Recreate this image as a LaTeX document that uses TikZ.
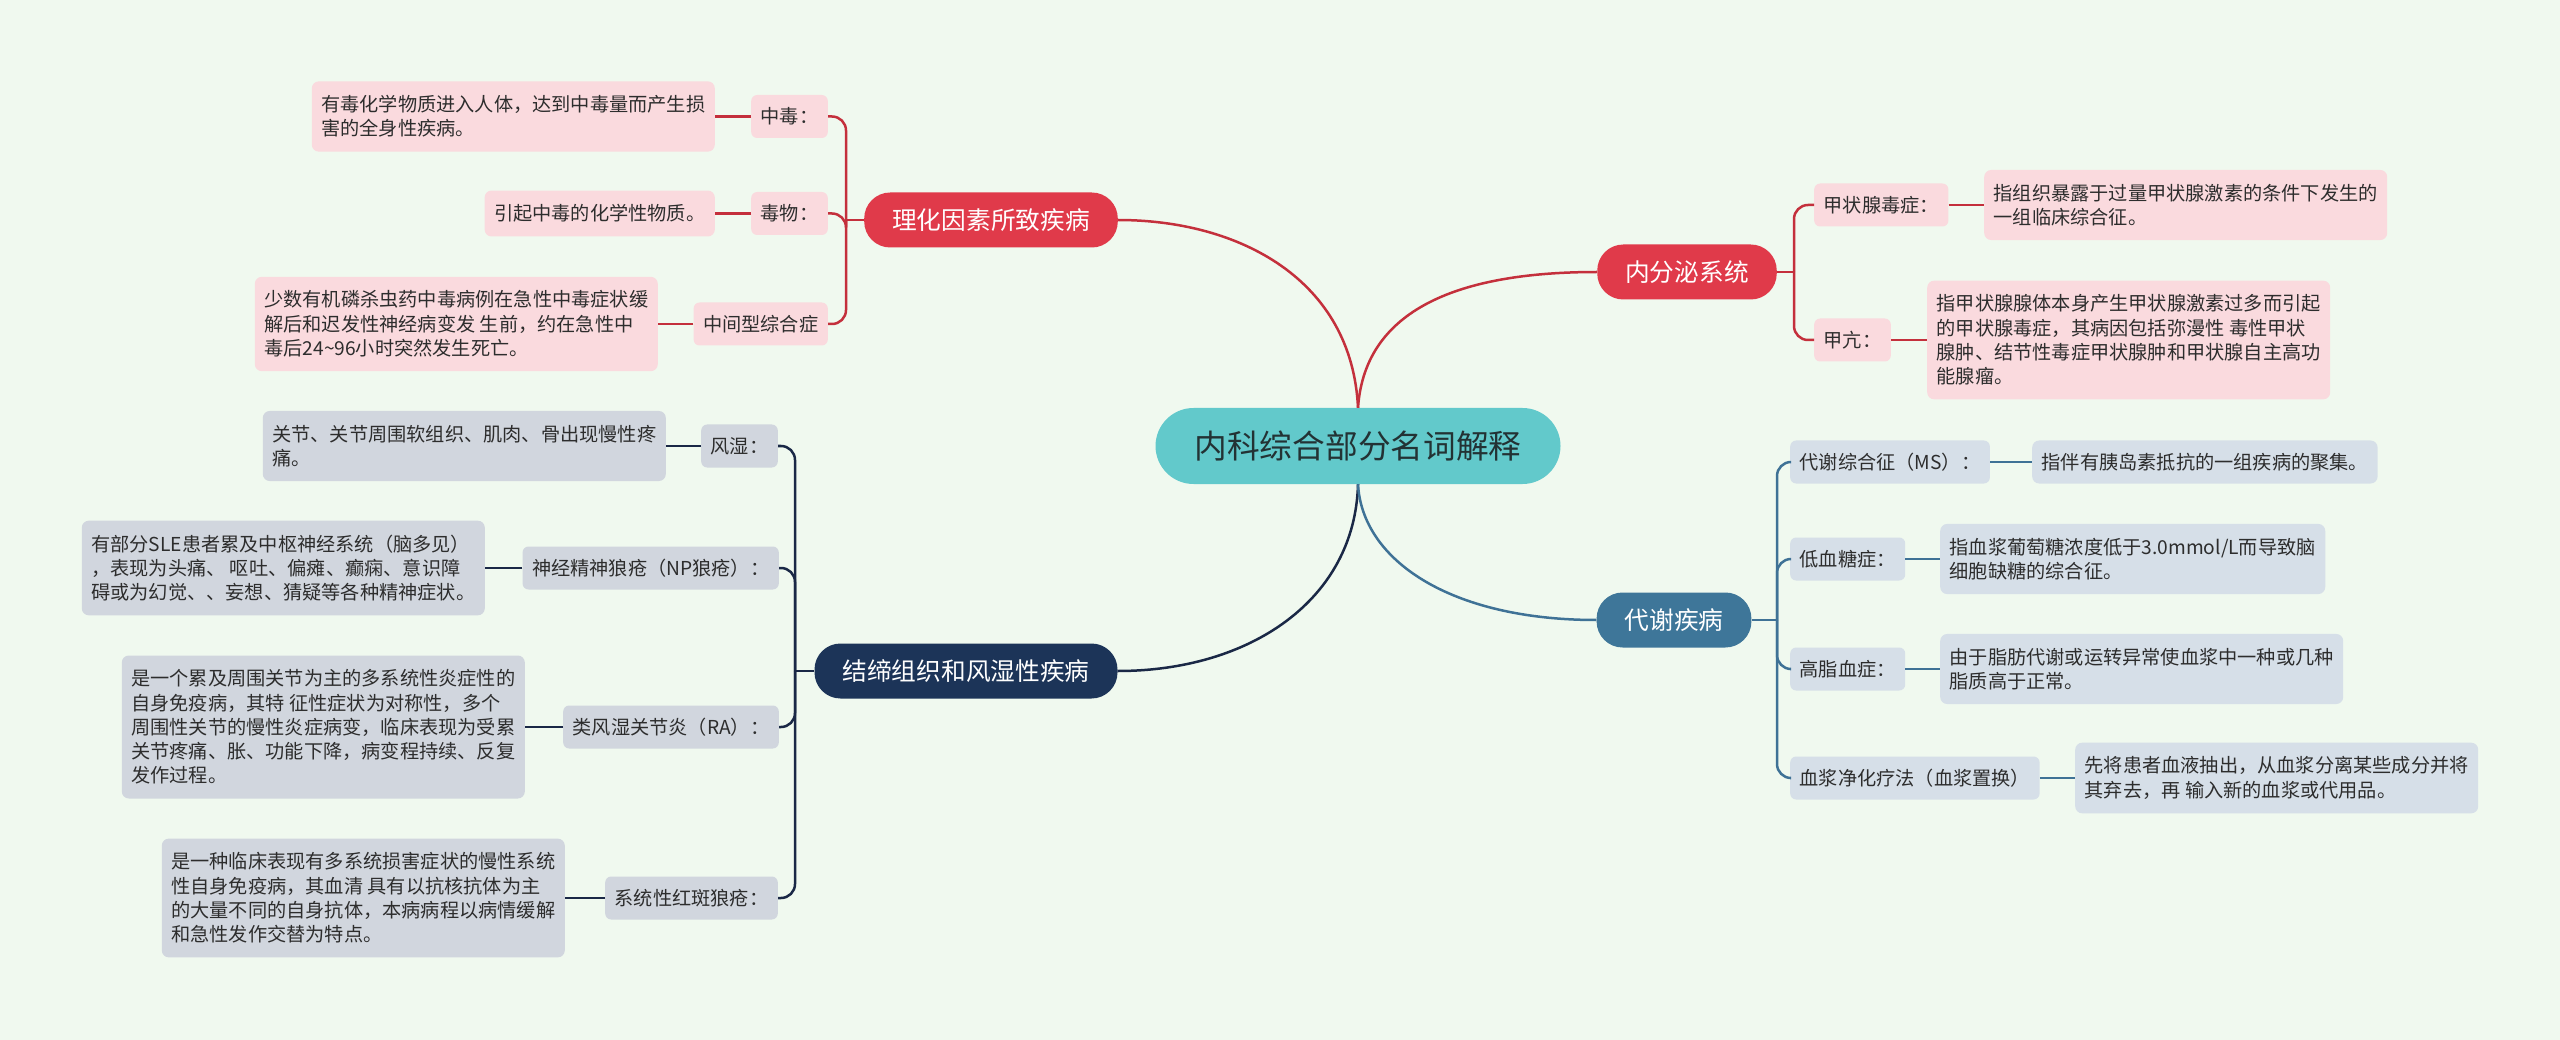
\documentclass[tikz,border=0pt]{standalone}
\usepackage{fontspec}
\setmainfont{Noto Sans CJK SC}
\definecolor{bgc}{RGB}{240,249,239}
\definecolor{rootc}{RGB}{98,201,203}
\definecolor{roottxt}{RGB}{35,50,52}
\definecolor{redm}{RGB}{224,58,74}
\definecolor{redl}{RGB}{196,48,60}
\definecolor{pinkc}{RGB}{250,218,222}
\definecolor{navym}{RGB}{28,52,88}
\definecolor{navyl}{RGB}{26,40,70}
\definecolor{grayc}{RGB}{209,214,222}
\definecolor{steelm}{RGB}{62,118,153}
\definecolor{steell}{RGB}{63,114,150}
\definecolor{bluec}{RGB}{214,223,232}
\definecolor{txt}{RGB}{45,45,45}
\tikzset{
  base/.style={inner xsep=9.5pt, inner ysep=0pt, text=txt, font=\fontsize{19.2}{24.3}\selectfont},
  lab/.style={base, rounded corners=6pt, minimum height=43pt},
  desc/.style={base, rounded corners=7pt, align=left, inner ysep=14pt},
  mainnode/.style={text=white, rounded corners=26pt, minimum height=55pt, inner xsep=28pt, inner ysep=0pt, font=\fontsize{24.7}{28}\selectfont},
  rootnode/.style={fill=rootc, text=roottxt, rounded corners=38pt, minimum height=76pt, inner xsep=39pt, inner ysep=0pt, font=\fontsize{32.7}{36}\selectfont},
  conn/.style={line width=2.5pt},
  br/.style={conn, rounded corners=14pt}
}
\begin{document}
\begin{tikzpicture}[x=1pt,y=-1pt]
\fill[bgc] (0,0) rectangle (2560,1040);
\useasboundingbox (0,0) rectangle (2560,1040);

% root and main branches
\node[rootnode] (r) at (1358,446) {内科综合部分名词解释};
\node[mainnode, fill=redm] (m1) at (991,220) {理化因素所致疾病};
\node[mainnode, fill=redm] (m2) at (1687,272) {内分泌系统};
\node[mainnode, fill=navym] (m3) at (966,671) {结缔组织和风湿性疾病};
\node[mainnode, fill=steelm] (m4) at (1674,620) {代谢疾病};

% red branch left
\node[lab, fill=pinkc, anchor=east] (a1) at (828,116.5) {中毒：};
\node[desc, fill=pinkc, anchor=east] (da1) at (715,116.5) {有毒化学物质进入人体，达到中毒量而产生损\\害的全身性疾病。};
\node[lab, fill=pinkc, anchor=east] (a2) at (828,213.5) {毒物：};
\node[desc, fill=pinkc, anchor=east] (da2) at (715,213.5) {引起中毒的化学性物质。};
\node[lab, fill=pinkc, anchor=east] (a3) at (828,324) {中间型综合症};
\node[desc, fill=pinkc, anchor=east] (da3) at (658,324) {少数有机磷杀虫药中毒病例在急性中毒症状缓\\解后和迟发性神经病变发 生前，约在急性中\\毒后24\textasciitilde96小时突然发生死亡。};

% navy branch left
\node[lab, fill=grayc, anchor=east] (b1) at (778,446) {风湿：};
\node[desc, fill=grayc, anchor=east] (db1) at (666,446) {关节、关节周围软组织、肌肉、骨出现慢性疼\\痛。};
\node[lab, fill=grayc, anchor=east] (b2) at (779,568) {神经精神狼疮（NP狼疮）：};
\node[desc, fill=grayc, anchor=east] (db2) at (485,568) {有部分SLE患者累及中枢神经系统（脑多见）\\，表现为头痛、 呕吐、偏瘫、癫痫、意识障\\碍或为幻觉、、妄想、猜疑等各种精神症状。};
\node[lab, fill=grayc, anchor=east] (b3) at (779,727) {类风湿关节炎（RA）：};
\node[desc, fill=grayc, anchor=east] (db3) at (525,727) {是一个累及周围关节为主的多系统性炎症性的\\自身免疫病，其特 征性症状为对称性，多个\\周围性关节的慢性炎症病变，临床表现为受累\\关节疼痛、胀、功能下降，病变程持续、反复\\发作过程。};
\node[lab, fill=grayc, anchor=east] (b4) at (778,898) {系统性红斑狼疮：};
\node[desc, fill=grayc, anchor=east] (db4) at (565,898) {是一种临床表现有多系统损害症状的慢性系统\\性自身免疫病，其血清 具有以抗核抗体为主\\的大量不同的自身抗体，本病病程以病情缓解\\和急性发作交替为特点。};

% red branch right
\node[lab, fill=pinkc, anchor=west] (c1) at (1814,205) {甲状腺毒症：};
\node[desc, fill=pinkc, anchor=west] (dc1) at (1984,205) {指组织暴露于过量甲状腺激素的条件下发生的\\一组临床综合征。};
\node[lab, fill=pinkc, anchor=west] (c2) at (1814,340) {甲亢：};
\node[desc, fill=pinkc, anchor=west] (dc2) at (1927,340) {指甲状腺腺体本身产生甲状腺激素过多而引起\\的甲状腺毒症，其病因包括弥漫性 毒性甲状\\腺肿、结节性毒症甲状腺肿和甲状腺自主高功\\能腺瘤。};

% steel branch right
\node[lab, fill=bluec, anchor=west] (e1) at (1790,462) {代谢综合征（MS）：};
\node[desc, fill=bluec, anchor=west, inner ysep=0pt, minimum height=43pt] (de1) at (2032,462) {指伴有胰岛素抵抗的一组疾病的聚集。};
\node[lab, fill=bluec, anchor=west] (e2) at (1790,559) {低血糖症：};
\node[desc, fill=bluec, anchor=west] (de2) at (1940,559) {指血浆葡萄糖浓度低于3.0mmol/L而导致脑\\细胞缺糖的综合征。};
\node[lab, fill=bluec, anchor=west] (e3) at (1790,669) {高脂血症：};
\node[desc, fill=bluec, anchor=west] (de3) at (1940,669) {由于脂肪代谢或运转异常使血浆中一种或几种\\脂质高于正常。};
\node[lab, fill=bluec, anchor=west] (e4) at (1790,778) {血浆净化疗法（血浆置换）};
\node[desc, fill=bluec, anchor=west] (de4) at (2075,778) {先将患者血液抽出，从血浆分离某些成分并将\\其弃去，再 输入新的血浆或代用品。};

% root to main
\draw[conn, redl] (r.north) .. controls (1352,280) and (1240,220) .. (m1.east);
\draw[conn, redl] (r.north) .. controls (1364,320) and (1440,272) .. (m2.west);
\draw[conn, navyl] (r.south) .. controls (1355,600) and (1250,671) .. (m3.east);
\draw[conn, steell] (r.south) .. controls (1362,560) and (1450,620) .. (m4.west);

% junctions
\coordinate (j1) at (846,220);
\coordinate (j2) at (1794,272);
\coordinate (j3) at (795,671);
\coordinate (j4) at (1777,620);

\draw[conn, redl] (m1.west) -- (j1);
\foreach \n in {a1,a2,a3} \draw[br, redl] (j1) |- (\n.east);
\draw[conn, redl] (a1.west) -- (da1.east);
\draw[conn, redl] (a2.west) -- (da2.east);
\draw[conn, redl] (a3.west) -- (da3.east);

\draw[conn, redl] (m2.east) -- (j2);
\foreach \n in {c1,c2} \draw[br, redl] (j2) |- (\n.west);
\draw[conn, redl] (c1.east) -- (dc1.west);
\draw[conn, redl] (c2.east) -- (dc2.west);

\draw[conn, navyl] (m3.west) -- (j3);
\foreach \n in {b1,b2,b3,b4} \draw[br, navyl] (j3) |- (\n.east);
\draw[conn, navyl] (b1.west) -- (db1.east);
\draw[conn, navyl] (b2.west) -- (db2.east);
\draw[conn, navyl] (b3.west) -- (db3.east);
\draw[conn, navyl] (b4.west) -- (db4.east);

\draw[conn, steell] (m4.east) -- (j4);
\foreach \n in {e1,e2,e3,e4} \draw[br, steell] (j4) |- (\n.west);
\draw[conn, steell] (e1.east) -- (de1.west);
\draw[conn, steell] (e2.east) -- (de2.west);
\draw[conn, steell] (e3.east) -- (de3.west);
\draw[conn, steell] (e4.east) -- (de4.west);
\end{tikzpicture}
\end{document}
